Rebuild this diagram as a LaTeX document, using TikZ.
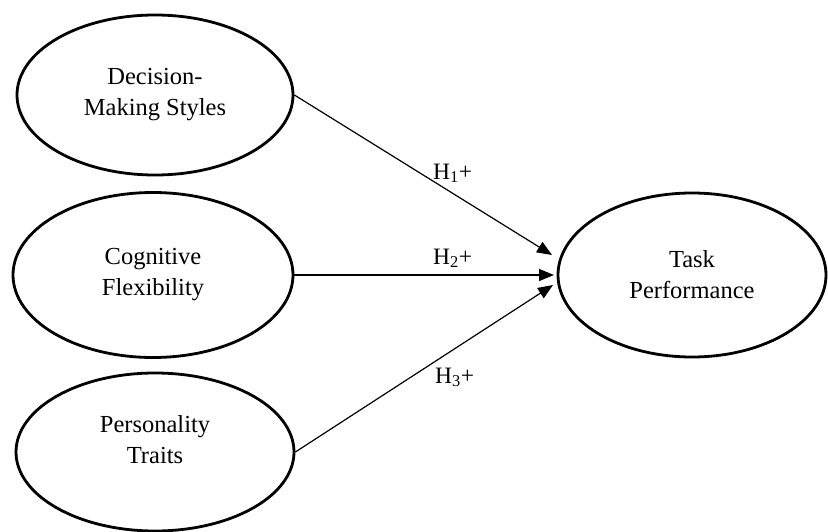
\documentclass[tikz,border=0pt]{standalone}
\usepackage{fontspec}
\setmainfont{Liberation Serif}
\usetikzlibrary{shapes.geometric, arrows.meta}

\begin{document}
\begin{tikzpicture}[
    x=1pt, y=-1pt,
    font=\fontsize{24.5}{31}\selectfont,
    latent/.style={ellipse, draw=black, line width=2.8pt, inner sep=0pt, align=center},
    hyp/.style={-{Triangle[length=15pt, width=12pt]}, line width=1.2pt},
    hlabel/.style={font=\fontsize{23.5}{26}\selectfont, inner sep=0pt, anchor=base west}
]
    \useasboundingbox (0,0) rectangle (828,532);

    % ==========================================
    % CONSTRUCTS
    % ==========================================
    % Predictors (left column)
    \node[latent, minimum width=276pt, minimum height=160pt] (dms) at (155,95)
        {Decision-\\Making Styles};
    \node[latent, minimum width=280pt, minimum height=165pt] (cflex) at (153,275)
        {Cognitive\\Flexibility};
    \node[latent, minimum width=278pt, minimum height=158pt, text depth=26pt] (ptraits) at (155,452)
        {Personality\\Traits};

    % Outcome (right)
    \node[latent, minimum width=268pt, minimum height=164pt] (taskperf) at (692,275)
        {Task\\Performance};

    % Arrow tips in front of the outcome
    \coordinate (tip_h1) at (552,255);
    \coordinate (tip_h2) at (554,275);
    \coordinate (tip_h3) at (553,285);


    % ==========================================
    % HYPOTHESES
    % ==========================================
    \draw[hyp] (dms.east)     -- (tip_h1);
    \draw[hyp] (cflex.east)   -- (tip_h2);
    \draw[hyp] (ptraits.east) -- (tip_h3);

    \node[hlabel] (lbl_h1) at (433,179) {H\textsubscript{1}+};
    \node[hlabel] (lbl_h2) at (433,264) {H\textsubscript{2}+};
    \node[hlabel] (lbl_h3) at (435,383) {H\textsubscript{3}+};

\end{tikzpicture}
\end{document}
